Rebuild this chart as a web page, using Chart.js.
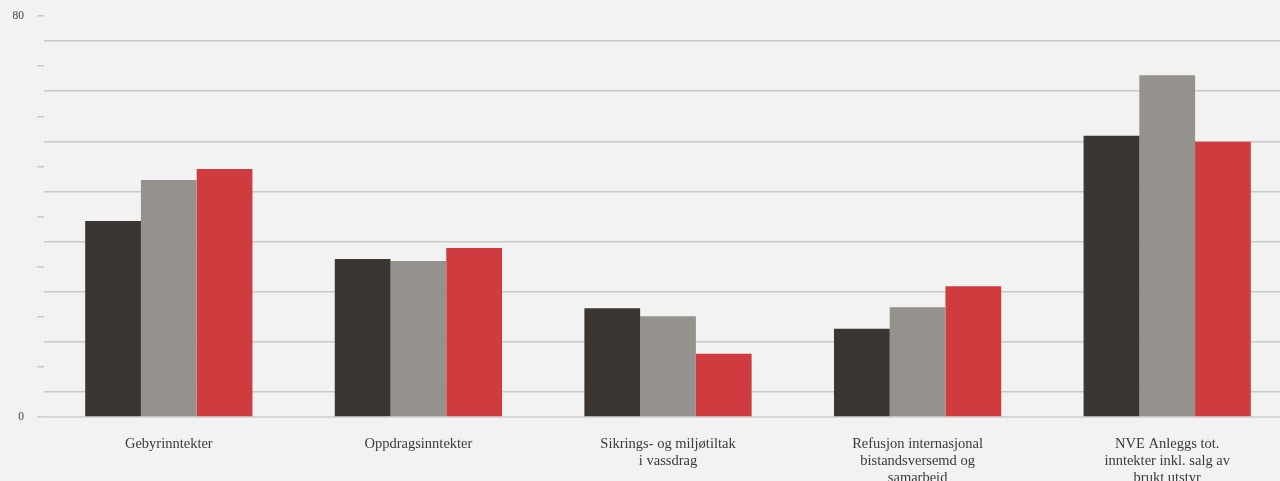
<!DOCTYPE html>
<html>
<head>
<meta charset="utf-8">
<script src="https://cdn.jsdelivr.net/npm/chart.js@4"></script>
<style>
  html, body { margin: 0; padding: 0; background: #f2f2f2; overflow: hidden; }
  #wrap { position: relative; width: 1292px; height: 481px; }
</style>
</head>
<body>
<div id="wrap"><canvas id="c"></canvas></div>
<script>
const categories = [
  ["Gebyrinntekter"],
  ["Oppdragsinntekter"],
  ["Sikrings- og miljøtiltak", "i vassdrag"],
  ["Refusjon internasjonal", "bistandsversemd og", "samarbeid"],
  ["NVE Anleggs tot.", "inntekter inkl. salg av", "brukt utstyr"]
];
const seriesA = [39.1, 31.5, 21.7, 17.6, 56.1];
const seriesB = [47.3, 31.1, 20.1, 21.9, 68.2];
const seriesC = [49.5, 33.7, 12.6, 26.1, 54.9];
const yTickLabels = [0, 80];

const gridCol = '#c9c9c9';
const clear = 'rgba(0,0,0,0)';

new Chart(document.getElementById('c'), {
  type: 'bar',
  data: {
    labels: categories,
    datasets: [
      { data: seriesA, backgroundColor: '#3b3632' },
      { data: seriesB, backgroundColor: '#95918d' },
      { data: seriesC, backgroundColor: '#cf3b3e' }
    ]
  },
  options: {
    responsive: true,
    maintainAspectRatio: false,
    animation: false,
    layout: { padding: { top: 16, right: 0, bottom: 0, left: 0 } },
    plugins: { legend: { display: false }, tooltip: { enabled: false } },
    datasets: { bar: { categoryPercentage: 0.67, barPercentage: 1.0 } },
    scales: {
      x: {
        grid: { display: false },
        border: { display: true, color: '#d6d6d6', width: 2 },
        ticks: {
          color: '#3a3a3a',
          font: { family: 'Liberation Serif', size: 14.5, lineHeight: '17px' },
          padding: 11,
          maxRotation: 0,
          autoSkip: false
        },
        afterFit: s => { s.height = 64; }
      },
      y: {
        min: 0,
        max: 80,
        border: { display: false },
        grid: {
          tickLength: 7,
          color: c => (c.tick && (c.tick.value % 10 === 5 || c.tick.value === 0)) ? gridCol : clear,
          tickColor: c => (c.tick && c.tick.value % 10 === 0) ? gridCol : clear,
          lineWidth: 1.5
        },
        ticks: {
          stepSize: 5,
          color: '#444',
          font: { family: 'Liberation Serif', size: 11.5, lineHeight: '4px' },
          padding: 13,
          callback: v => yTickLabels.includes(v) ? String(v) : ''
        },
        afterFit: s => { s.width = 44; }
      }
    }
  }
});
</script>
</body>
</html>
